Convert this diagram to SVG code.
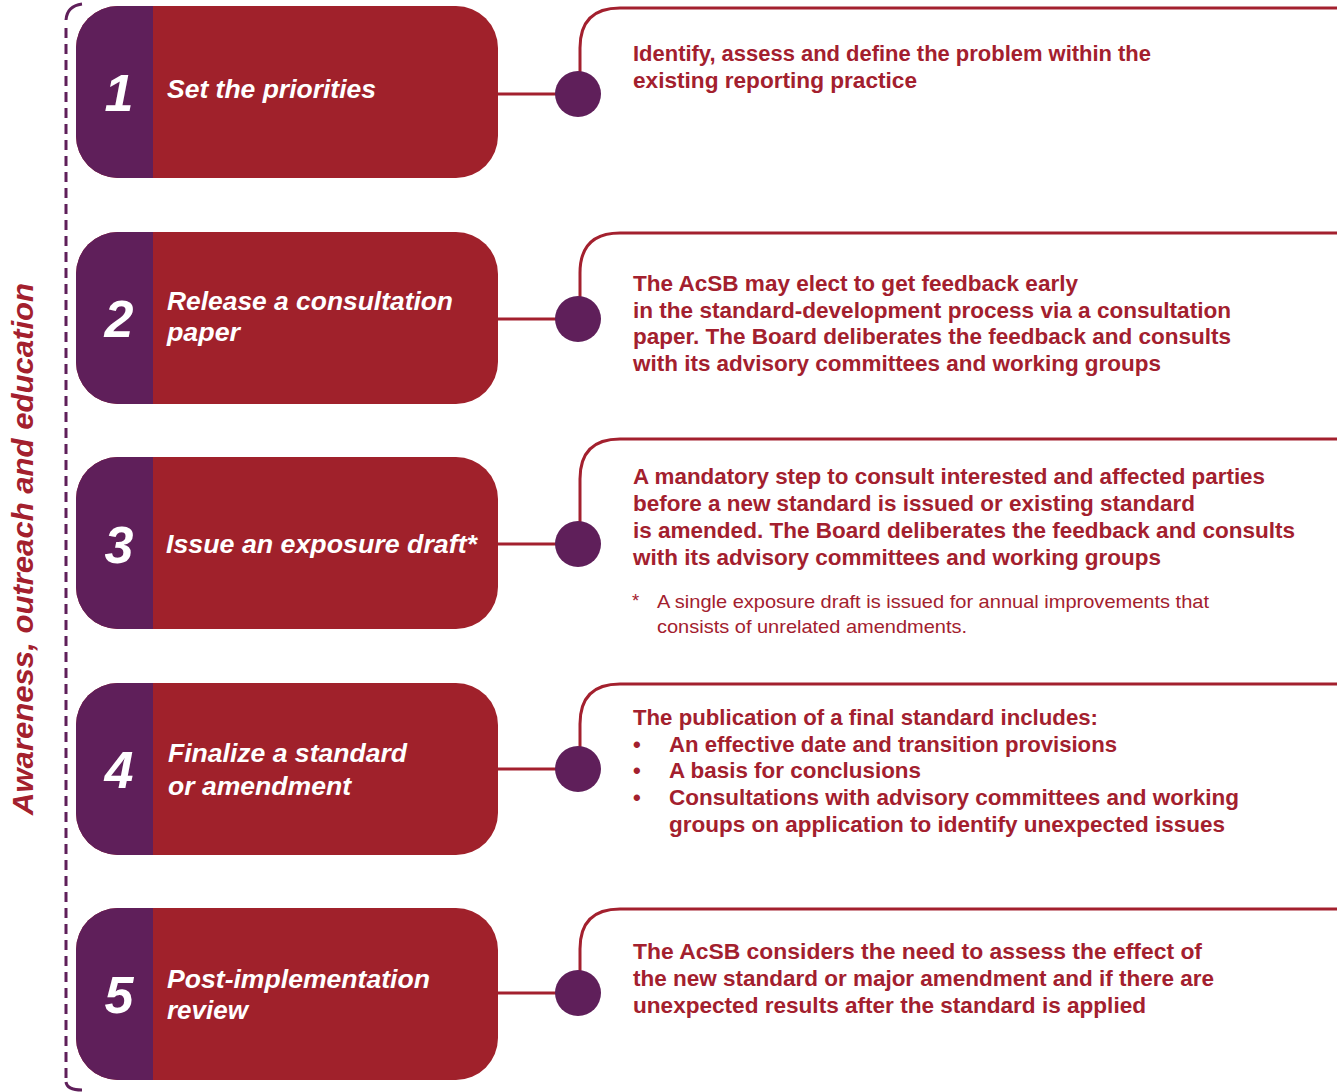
<svg xmlns="http://www.w3.org/2000/svg" width="1337" height="1092" viewBox="0 0 1337 1092">
<defs>
<style>
.red{fill:#A0212B}
.pur{fill:#5F1F5A}
.num{font-family:"Liberation Sans",Arial,sans-serif;font-weight:bold;font-style:italic;font-size:52px;fill:#fff;text-anchor:middle}
.ttl{font-family:"Liberation Sans",Arial,sans-serif;font-weight:bold;font-style:italic;font-size:26px;fill:#fff}
.desc{font-family:"Liberation Sans",Arial,sans-serif;font-weight:bold;font-size:22px;fill:#A3202E}
.note{font-family:"Liberation Sans",Arial,sans-serif;font-size:18.5px;fill:#A3202E}
.conn{fill:none;stroke:#A3202E;stroke-width:3}
.dot{fill:#5F1F5A}
.side{font-family:"Liberation Sans",Arial,sans-serif;font-weight:bold;font-style:italic;font-size:30px;fill:#A3202E}
</style>
<clipPath id="c1"><rect x="76" y="6" width="422" height="172" rx="42"/></clipPath>
<clipPath id="c2"><rect x="76" y="232" width="422" height="172" rx="42"/></clipPath>
<clipPath id="c3"><rect x="76" y="457" width="422" height="172" rx="42"/></clipPath>
<clipPath id="c4"><rect x="76" y="683" width="422" height="172" rx="42"/></clipPath>
<clipPath id="c5"><rect x="76" y="908" width="422" height="172" rx="42"/></clipPath>
</defs>
<rect width="1337" height="1092" fill="#fff"/>

<g id="bracket" fill="none" stroke="#5F1F5A" stroke-width="3">
<path d="M82,4 Q67,6 66,20" />
<path d="M66,28 L66,1078" stroke-dasharray="10 6"/>
<path d="M66,1082 Q67,1090 82,1090"/>
</g>
<text class="side" transform="translate(33,549) rotate(-90)" text-anchor="middle" textLength="532" lengthAdjust="spacingAndGlyphs">Awareness, outreach and education</text>

<g id="connectors">
<path class="conn" d="M498,94 H578 M580,94 V48 Q580,8 620,8 H1337"/>
<path class="conn" d="M498,319 H578 M580,319 V273 Q580,233 620,233 H1337"/>
<path class="conn" d="M498,544 H578 M580,544 V479 Q580,439 620,439 H1337"/>
<path class="conn" d="M498,769 H578 M580,769 V724 Q580,684 620,684 H1337"/>
<path class="conn" d="M498,993 H578 M580,993 V949 Q580,909 620,909 H1337"/>
<circle class="dot" cx="578" cy="94" r="23"/>
<circle class="dot" cx="578" cy="319" r="23"/>
<circle class="dot" cx="578" cy="544" r="23"/>
<circle class="dot" cx="578" cy="769" r="23"/>
<circle class="dot" cx="578" cy="993" r="23"/>
</g>

<g id="node1">
<g clip-path="url(#c1)"><rect class="red" x="76" y="6" width="422" height="172"/><rect class="pur" x="76" y="6" width="77" height="172"/></g>
<text class="num" x="119" y="111">1</text>
<text class="ttl" x="167" y="98" textLength="209" lengthAdjust="spacingAndGlyphs">Set the priorities</text>
</g>
<g id="node2">
<g clip-path="url(#c2)"><rect class="red" x="76" y="232" width="422" height="172"/><rect class="pur" x="76" y="232" width="77" height="172"/></g>
<text class="num" x="119" y="337">2</text>
<text class="ttl" x="167" y="310" textLength="286" lengthAdjust="spacingAndGlyphs">Release a consultation</text>
<text class="ttl" x="167" y="341" textLength="73" lengthAdjust="spacingAndGlyphs">paper</text>
</g>
<g id="node3">
<g clip-path="url(#c3)"><rect class="red" x="76" y="457" width="422" height="172"/><rect class="pur" x="76" y="457" width="77" height="172"/></g>
<text class="num" x="119" y="563">3</text>
<text class="ttl" x="166" y="553" textLength="311" lengthAdjust="spacingAndGlyphs">Issue an exposure draft*</text>
</g>
<g id="node4">
<g clip-path="url(#c4)"><rect class="red" x="76" y="683" width="422" height="172"/><rect class="pur" x="76" y="683" width="77" height="172"/></g>
<text class="num" x="119" y="788">4</text>
<text class="ttl" x="168" y="762" textLength="239" lengthAdjust="spacingAndGlyphs">Finalize a standard</text>
<text class="ttl" x="168" y="795" textLength="183" lengthAdjust="spacingAndGlyphs">or amendment</text>
</g>
<g id="node5">
<g clip-path="url(#c5)"><rect class="red" x="76" y="908" width="422" height="172"/><rect class="pur" x="76" y="908" width="77" height="172"/></g>
<text class="num" x="119" y="1013">5</text>
<text class="ttl" x="167" y="988" textLength="263" lengthAdjust="spacingAndGlyphs">Post-implementation</text>
<text class="ttl" x="167" y="1019" textLength="81" lengthAdjust="spacingAndGlyphs">review</text>
</g>

<g id="desc1">
<text class="desc" x="633" y="61" textLength="518" lengthAdjust="spacingAndGlyphs">Identify, assess and define the problem within the</text>
<text class="desc" x="633" y="88" textLength="284" lengthAdjust="spacingAndGlyphs">existing reporting practice</text>
</g>
<g id="desc2">
<text class="desc" x="633" y="291" textLength="445" lengthAdjust="spacingAndGlyphs">The AcSB may elect to get feedback early</text>
<text class="desc" x="633" y="318" textLength="598" lengthAdjust="spacingAndGlyphs">in the standard-development process via a consultation</text>
<text class="desc" x="633" y="344" textLength="598" lengthAdjust="spacingAndGlyphs">paper. The Board deliberates the feedback and consults</text>
<text class="desc" x="633" y="371" textLength="528" lengthAdjust="spacingAndGlyphs">with its advisory committees and working groups</text>
</g>
<g id="desc3">
<text class="desc" x="633" y="484" textLength="632" lengthAdjust="spacingAndGlyphs">A mandatory step to consult interested and affected parties</text>
<text class="desc" x="633" y="511" textLength="562" lengthAdjust="spacingAndGlyphs">before a new standard is issued or existing standard</text>
<text class="desc" x="633" y="538" textLength="662" lengthAdjust="spacingAndGlyphs">is amended. The Board deliberates the feedback and consults</text>
<text class="desc" x="633" y="565" textLength="528" lengthAdjust="spacingAndGlyphs">with its advisory committees and working groups</text>
<text class="note" x="632" y="607">*</text>
<text class="note" x="657" y="608" textLength="552" lengthAdjust="spacingAndGlyphs">A single exposure draft is issued for annual improvements that</text>
<text class="note" x="657" y="633" textLength="310" lengthAdjust="spacingAndGlyphs">consists of unrelated amendments.</text>
</g>
<g id="desc4">
<text class="desc" x="633" y="725" textLength="465" lengthAdjust="spacingAndGlyphs">The publication of a final standard includes:</text>
<text class="desc" x="633" y="752">•</text>
<text class="desc" x="669" y="752" textLength="448" lengthAdjust="spacingAndGlyphs">An effective date and transition provisions</text>
<text class="desc" x="633" y="778">•</text>
<text class="desc" x="669" y="778" textLength="252" lengthAdjust="spacingAndGlyphs">A basis for conclusions</text>
<text class="desc" x="633" y="805">•</text>
<text class="desc" x="669" y="805" textLength="570" lengthAdjust="spacingAndGlyphs">Consultations with advisory committees and working</text>
<text class="desc" x="669" y="832" textLength="556" lengthAdjust="spacingAndGlyphs">groups on application to identify unexpected issues</text>
</g>
<g id="desc5">
<text class="desc" x="633" y="959" textLength="569" lengthAdjust="spacingAndGlyphs">The AcSB considers the need to assess the effect of</text>
<text class="desc" x="633" y="986" textLength="581" lengthAdjust="spacingAndGlyphs">the new standard or major amendment and if there are</text>
<text class="desc" x="633" y="1013" textLength="513" lengthAdjust="spacingAndGlyphs">unexpected results after the standard is applied</text>
</g>
</svg>
